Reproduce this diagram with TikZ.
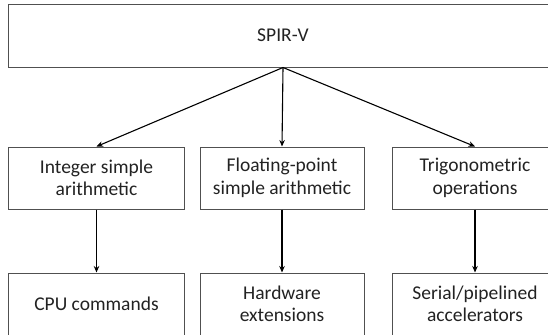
\documentclass[tikz,border=0pt]{standalone}
\usepackage{fontspec}
\setmainfont{Carlito}
\usepackage{tikz}
\usetikzlibrary{arrows.meta, positioning}
\definecolor{boxline}{HTML}{505050}
\definecolor{boxtext}{HTML}{222222}

\begin{document}
\begin{tikzpicture}[
  x=1bp, y=-1bp,
  node distance=63bp and 16bp,
  box/.style={
    rectangle, draw=boxline, line width=1bp, fill=white,
    minimum height=62bp, inner sep=2bp, align=center,
    text=boxtext, font=\fontsize{19.5bp}{22.5bp}\selectfont
  },
  arr/.style={-{Stealth[length=6.5bp, width=5.5bp]}, line width=1.1bp, black},
]
  \useasboundingbox (0,0) rectangle (548,334);
  \clip (0,0) rectangle (548,334);

  % Top
  \node[box, minimum width=548bp, minimum height=63bp] (spir) at (283,35.5) {SPIR-V};

  % Operation row
  \node[box, minimum width=175bp] (int)  at (96.5,178) {Integer simple\\arithmetic};
  \node[box, minimum width=164bp] (flt)  at (282,178)  {Floating-point\\simple arithmetic};
  \node[box, minimum width=166bp] (trig) at (475,178)  {Trigonometric\\operations};

  % Target row
  \node[box, minimum width=175bp, below=of int]  (cpu) {CPU commands};
  \node[box, minimum width=164bp, below=of flt]  (hw)  {Hardware\\extensions};
  \node[box, minimum width=166bp, below=of trig] (ser) {Serial/pipelined\\accelerators};

  % Arrows from SPIR-V
  \draw[arr] (spir.south) -- (int.north);
  \draw[arr] (spir.south) -- (flt.north);
  \draw[arr] (spir.south) -- (trig.north);

  % Arrows down
  \draw[arr] (int)  -- (cpu);
  \draw[arr] (flt)  -- (hw);
  \draw[arr] (trig) -- (ser);
\end{tikzpicture}
\end{document}
